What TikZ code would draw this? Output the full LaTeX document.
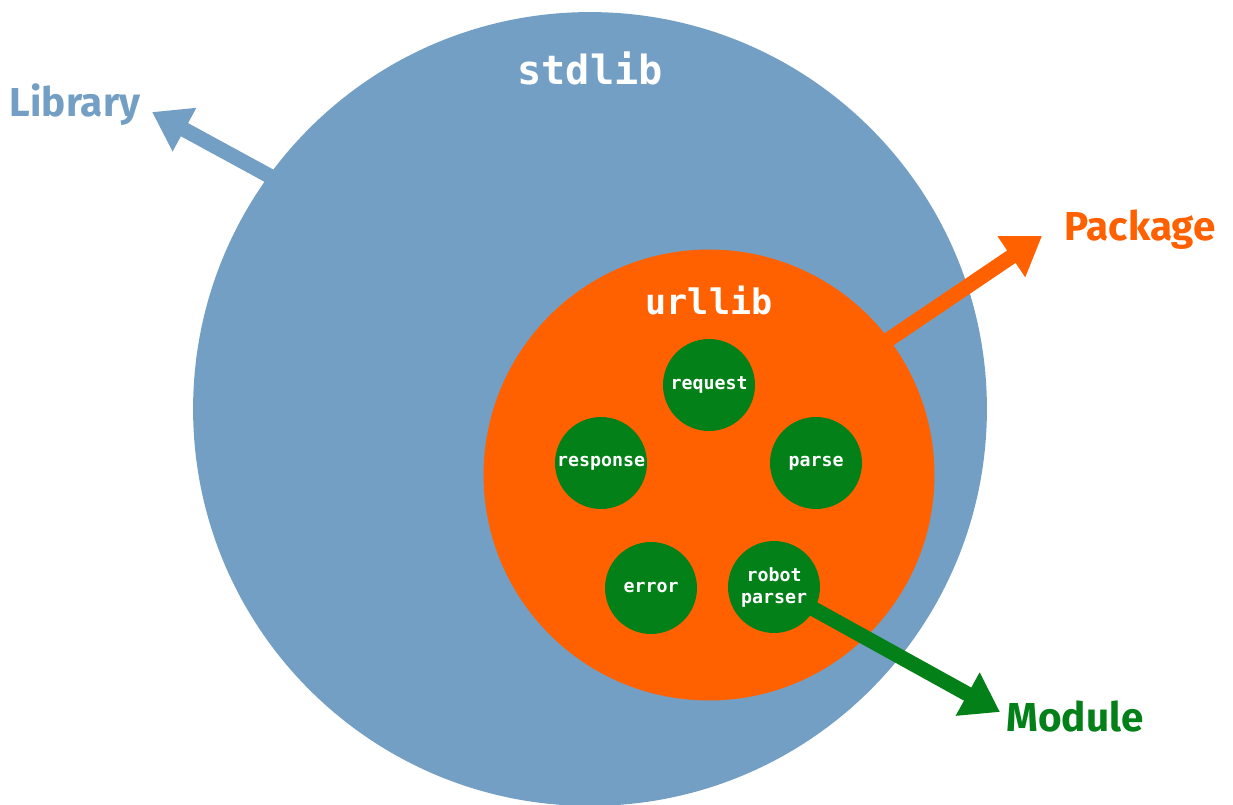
\documentclass[tikz,border=0pt]{standalone}
\usepackage{fontspec}
\setmainfont{Fira Sans}
\setmonofont{DejaVu Sans Mono}
\usetikzlibrary{arrows.meta}
\definecolor{libblue}{RGB}{115,159,196}
\definecolor{pkgorange}{RGB}{255,96,0}
\definecolor{modgreen}{RGB}{4,128,25}
\begin{document}
\begin{tikzpicture}[x = 0.02cm, y = -0.02cm,
  module/.style = {circle, fill = modgreen, minimum size = 1.84cm, inner sep = 0pt, align = center,
    text = white, font = \ttfamily\bfseries\fontsize{10.4}{12.5}\selectfont},
  bigarrow/.style = {line width = 0.3cm, -{Triangle[length = 0.74cm, width = 0.94cm]}},
  kind/.style = {font = \bfseries\fontsize{23}{26}\selectfont}]
\useasboundingbox (0,0) rectangle (1233,804);
% circles
\node [circle, fill = libblue, minimum size = 15.88cm, inner sep = 0pt] (stdlib) at (590,409) {};
\coordinate (libtip) at (152,112);
\draw [bigarrow, libblue, shorten <= -0.3cm] (stdlib.144) -- (libtip);
\node [circle, fill = pkgorange, minimum size = 9.02cm, inner sep = 0pt] (urllib) at (709,475) {};
\coordinate (pkgtip) at (1042,236);
\draw [bigarrow, pkgorange, shorten <= -0.3cm] (urllib.37) -- (pkgtip);
\node [text = white, font = \ttfamily\bfseries\fontsize{22.9}{26}\selectfont] (stdlibname) at (590,68) {stdlib};
\node [text = white, font = \ttfamily\bfseries\fontsize{20}{24}\selectfont] (urllibname) at (709,300) {urllib};
% modules
\node [module] (request) at (709,385) {request};
\node [module] (response) at (601,463) {response};
\node [module] (parse) at (816,463) {parse};
\node [module] (error) at (651,588) {error};
\coordinate (modtip) at (1000,712);
\draw [bigarrow, modgreen] (774,587) -- (modtip);
\node [module] (robot) at (774,587) {robot\\parser};
% labels
\node [kind, text = libblue] (library) at (75,105) {Library};
\node [kind, text = pkgorange] (package) at (1140,230) {Package};
\node [kind, text = modgreen] (module) at (1075,717) {Module};
\end{tikzpicture}
\end{document}
